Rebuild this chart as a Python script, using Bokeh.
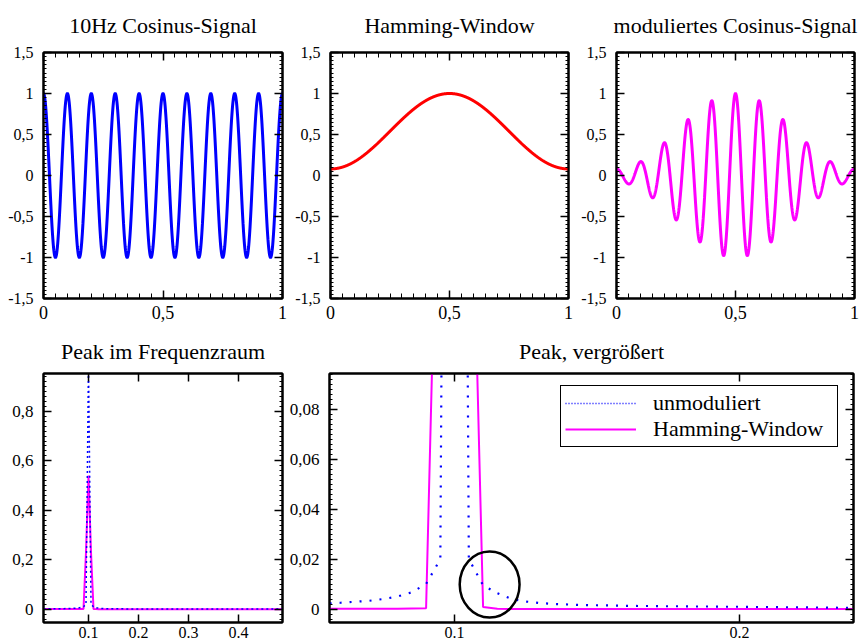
import numpy as np
from bokeh.plotting import figure
from bokeh.models import (FixedTicker, LinearAxis, Range1d, CustomJSTickFormatter,
                          Legend, LegendItem, CustomLabelingPolicy)
from bokeh.layouts import column, row
from bokeh.embed import file_html
from bokeh.resources import INLINE

# ---------------- data ----------------
# signal definition (from the titles: 10 Hz cosine, Hamming window 0.54/0.46)
signal_freq_hz = 10.0
hamming_a0 = 0.54
hamming_a1 = 0.46
t = np.linspace(0.0, 1.0, 1201)
cosine_signal = np.cos(2 * np.pi * signal_freq_hz * t)
hamming_window = hamming_a0 - hamming_a1 * np.cos(2 * np.pi * t)
modulated_signal = cosine_signal * hamming_window

# spectrum (normalised frequency)
freq = [0.000, 0.005, 0.010, 0.015, 0.020, 0.025, 0.030, 0.035, 0.040, 0.045,
        0.050, 0.055, 0.060, 0.065, 0.070, 0.075, 0.080, 0.085, 0.090, 0.095,
        0.100,
        0.105, 0.110, 0.115, 0.120, 0.125, 0.130, 0.135, 0.140, 0.145, 0.150,
        0.155, 0.160, 0.165, 0.170, 0.175, 0.180, 0.185, 0.190, 0.195, 0.200,
        0.205, 0.210, 0.215, 0.220, 0.225, 0.230, 0.235, 0.240, 0.245, 0.250,
        0.300, 0.350, 0.400, 0.450, 0.500]
spec_unmodulated = [0.0010, 0.0011, 0.0011, 0.0012, 0.0012, 0.0013, 0.0014, 0.0015, 0.0017, 0.0018,
                    0.0020, 0.0022, 0.0025, 0.0029, 0.0033, 0.0040, 0.0050, 0.0067, 0.0100, 0.0200,
                    1.0000,
                    0.0200, 0.0095, 0.0063, 0.0040, 0.0030, 0.0024, 0.0020, 0.0018, 0.0016, 0.0015,
                    0.0014, 0.0013, 0.0012, 0.0012, 0.0011, 0.0011, 0.0010, 0.0010, 0.0009, 0.0009,
                    0.0008, 0.0008, 0.0007, 0.0007, 0.0006, 0.0006, 0.0005, 0.0005, 0.0005, 0.0004,
                    0.0003, 0.0002, 0.0002, 0.0002, 0.0002]
spec_hamming = [0.0001, 0.0001, 0.0001, 0.0001, 0.0001, 0.0001, 0.0001, 0.0001, 0.0001, 0.0001,
                0.0001, 0.0001, 0.0001, 0.0001, 0.0001, 0.0001, 0.0001, 0.0002, 0.0003, 0.2300,
                0.5400,
                0.2300, 0.0008, 0.0001, 0.0000, 0.0000, 0.0000, 0.0000, 0.0000, 0.0000, 0.0000,
                0.0000, 0.0000, 0.0000, 0.0000, 0.0000, 0.0000, 0.0000, 0.0000, 0.0000, 0.0000,
                0.0000, 0.0000, 0.0000, 0.0000, 0.0000, 0.0000, 0.0000, 0.0000, 0.0000, 0.0000,
                0.0000, 0.0000, 0.0000, 0.0000, 0.0000]

titles = ["10Hz Cosinus-Signal", "Hamming-Window", "moduliertes Cosinus-Signal",
          "Peak im Frequenzraum", "Peak, vergr\u00f6\u00dfert"]
legend_labels = ["unmoduliert", "Hamming-Window"]

time_ticks = [0, 0.5, 1]
amp_ticks = [-1.5, -1, -0.5, 0, 0.5, 1, 1.5]
spec_x_ticks = [0.1, 0.2, 0.3, 0.4]
spec_y_ticks = [0, 0.2, 0.4, 0.6, 0.8]
zoom_x_ticks = [0.1, 0.2]
zoom_y_ticks = [0, 0.02, 0.04, 0.06, 0.08]

# highlighted region (circle) in the zoomed panel
circle_center = (0.1123, 0.0098)
circle_size = (0.021, 0.0265)

# ---------------- style ----------------
FONT = "Liberation Serif"
BLUE = "#0000ff"
RED = "#ff0000"
MAGENTA = "#ff00ff"

comma_fmt = CustomJSTickFormatter(code="return String(tick).replace('.', ',');")
dot_fmt = CustomJSTickFormatter(code="return String(tick);")


def minor_list(lo, hi, step):
    n = int(round((hi - lo) / step))
    return [round(lo + i * step, 6) for i in range(n + 1)]


def style_axis(ax, ticks, minor, major_len, minor_len, labels, fmt=None,
               size="16px", standoff=7):
    ax.ticker = FixedTicker(ticks=ticks, minor_ticks=minor)
    ax.major_tick_in = major_len
    ax.major_tick_out = 0
    ax.minor_tick_in = minor_len
    ax.minor_tick_out = 0
    ax.axis_line_color = "black"
    ax.axis_line_width = 2
    ax.major_tick_line_color = "black"
    ax.major_tick_line_width = 1.5
    ax.minor_tick_line_color = "black"
    ax.minor_tick_line_width = 1
    if labels:
        ax.formatter = fmt
        ax.major_label_text_font = FONT
        ax.major_label_text_font_size = size
        ax.major_label_text_color = "black"
        ax.major_label_standoff = standoff
    else:
        # mirrored tick marks only: no labels drawn
        ax.major_label_policy = CustomLabelingPolicy(code="return [];")
        ax.major_label_text_font_size = "1px"
        ax.major_label_standoff = 0


def make_fig(title, fw, fh, xr, yr, bl, br, bt, bb, xt, xminor, yt, yminor,
             xfmt, yfmt, title_standoff, xsize, ysize, xstandoff):
    p = figure(frame_width=fw, frame_height=fh,
               x_range=Range1d(*xr), y_range=Range1d(*yr),
               output_backend="svg", toolbar_location=None,
               x_axis_type=None, y_axis_type=None,
               min_border_left=bl, min_border_right=br,
               min_border_top=bt, min_border_bottom=bb)
    p.title.text = title
    p.title.text_font = FONT
    p.title.text_font_style = "normal"
    p.title.text_font_size = "22px"
    p.title.text_color = "black"
    p.title.align = "center"
    p.title.vertical_align = "top"
    p.title.standoff = title_standoff
    p.xgrid.visible = False
    p.ygrid.visible = False
    p.outline_line_color = "black"
    p.outline_line_width = 2
    p.outline_line_alpha = 1
    p.background_fill_color = "white"
    p.border_fill_color = "white"
    xb = LinearAxis(); style_axis(xb, xt, xminor, 8, 5, True, xfmt, xsize, xstandoff)
    xa = LinearAxis(); style_axis(xa, xt, xminor, 8, 5, False)
    yl = LinearAxis(); style_axis(yl, yt, yminor, 8, 3, True, yfmt, ysize, 10)
    yr_ = LinearAxis(); style_axis(yr_, yt, yminor, 8, 3, False)
    p.add_layout(xb, "below")
    p.add_layout(xa, "above")
    p.add_layout(yl, "left")
    p.add_layout(yr_, "right")
    return p


time_minor = minor_list(0, 1, 0.05)
amp_minor = minor_list(-1.5, 1.5, 0.05)

p1 = make_fig(titles[0], 239, 246, (0, 1), (-1.5, 1.5), 43, 4, 52, 30,
              time_ticks, time_minor, amp_ticks, amp_minor, comma_fmt, comma_fmt, 18,
              "18px", "16px", 7)
p1.line(t, cosine_signal, line_color=BLUE, line_width=3)

p2 = make_fig(titles[1], 238, 246, (0, 1), (-1.5, 1.5), 43, 5, 52, 30,
              time_ticks, time_minor, amp_ticks, amp_minor, comma_fmt, comma_fmt, 18,
              "18px", "16px", 7)
p2.line(t, hamming_window, line_color=RED, line_width=3)

p3 = make_fig(titles[2], 238, 246, (0, 1), (-1.5, 1.5), 43, 9, 52, 30,
              time_ticks, time_minor, amp_ticks, amp_minor, comma_fmt, comma_fmt, 18,
              "18px", "16px", 7)
p3.line(t, modulated_signal, line_color=MAGENTA, line_width=3)

p4 = make_fig(titles[3], 239, 249, (0.01, 0.488), (-0.054, 0.953), 43, 4, 45, 19,
              spec_x_ticks, [], spec_y_ticks, minor_list(-0.04, 0.94, 0.02), dot_fmt, comma_fmt, 8,
              "16px", "17px", 4)
p4.line(freq, spec_hamming, line_color=MAGENTA, line_width=2)
p4.line(freq, spec_unmodulated, line_color=BLUE, line_width=1.5, line_dash="2 3")

p5 = make_fig(titles[4], 524, 249, (0.0561, 0.24), (-0.0054, 0.0943), 43, 9, 45, 19,
              zoom_x_ticks, [], zoom_y_ticks, minor_list(-0.004, 0.094, 0.002), dot_fmt, comma_fmt, 8,
              "16px", "17px", 4)
p5.line(freq, spec_hamming, line_color=MAGENTA, line_width=2)
p5.line(freq, spec_unmodulated, line_color=BLUE, line_width=2.2, line_dash="2 8")
p5.ellipse(x=[circle_center[0]], y=[circle_center[1]], width=circle_size[0],
           height=circle_size[1], fill_alpha=0, line_color="black", line_width=2.5)

# legend-only renderers (single NaN point so nothing is drawn in the frame)
leg_dot = p5.line(x=[np.nan], y=[np.nan], line_color=BLUE, line_width=1.5, line_dash="1 2")
leg_mag = p5.line(x=[np.nan], y=[np.nan], line_color=MAGENTA, line_width=2)
legend = Legend(items=[LegendItem(label=legend_labels[0], renderers=[leg_dot]),
                       LegendItem(label=legend_labels[1], renderers=[leg_mag])],
                location=(231, 175))
legend.label_text_font = FONT
legend.label_text_font_size = "22px"
legend.label_text_color = "black"
legend.glyph_width = 71
legend.glyph_height = 20
legend.label_height = 20
legend.label_width = 180
legend.label_standoff = 17
legend.spacing = 0
legend.padding = 4
legend.margin = 0
legend.border_line_color = "black"
legend.border_line_alpha = 1
legend.border_line_width = 1.8
legend.background_fill_alpha = 1
p5.add_layout(legend)

layout = column(row(p1, p2, p3), row(p4, p5))
open("out.html", "w").write(file_html(layout, INLINE))
